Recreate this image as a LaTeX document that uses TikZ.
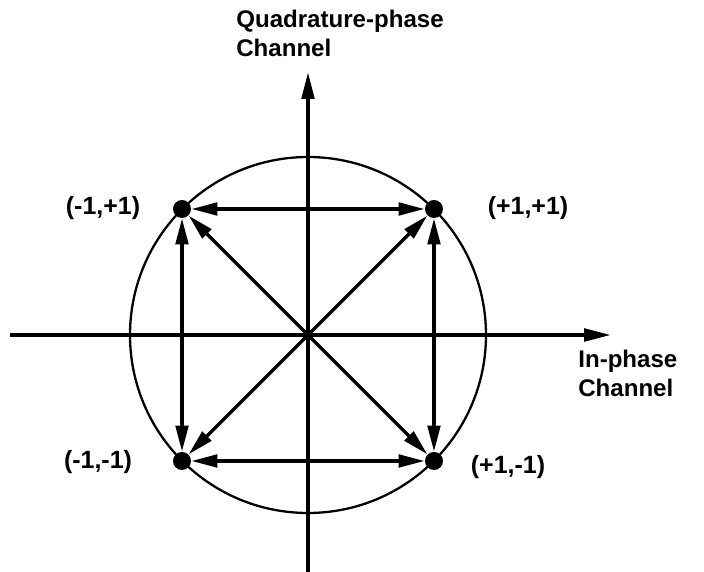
\documentclass[tikz,border=0pt]{standalone}
\usepackage{fontspec}
\setmainfont{Liberation Sans}
\usetikzlibrary{arrows.meta}
\tikzset{
  eixo/.style={-{Triangle[length=5.4mm, width=2.5mm]}, line width=2.2pt},
  seta/.style={-{Triangle[length=5.2mm, width=2.5mm]}, line width=2pt},
  setadupla/.style={{Triangle[length=5.2mm, width=2.5mm]}-{Triangle[length=5.2mm, width=2.5mm]}, line width=2pt},
  ponto/.style={circle, fill=black, inner sep=0pt, minimum size=3.6mm},
  rotulo/.style={font=\fontsize{13.7}{16.5}\selectfont\bfseries, inner sep=0pt, align=left},
  coord/.style={font=\fontsize{14.2}{16.5}\selectfont\bfseries, inner sep=0pt},
}
\begin{document}
\begin{tikzpicture}
  \useasboundingbox (-6.16,-4.74) rectangle (7.92,6.70);

  % --- Circulo e eixos --------------------------------------------------------
  \coordinate (o) at (0,0);
  \draw[line width=1.3pt] (o) circle (3.56);
  \coordinate (xini) at (-5.96,0);
  \coordinate (xfim) at (6.06,0);
  \coordinate (yini) at (0,-4.74);
  \coordinate (yfim) at (0,5.26);
  \draw[eixo] (xini) -- (xfim);
  \draw[eixo] (yini) -- (yfim);

  % --- Pontos da constelacao ---------------------------------------------------
  \node[ponto] (mp) at (-2.52, 2.52) {};
  \node[ponto] (pp) at ( 2.52, 2.52) {};
  \node[ponto] (mm) at (-2.52,-2.52) {};
  \node[ponto] (pm) at ( 2.52,-2.52) {};

  % --- Transicoes ---------------------------------------------------------
  \draw[setadupla] (mp) -- (pp);
  \draw[setadupla] (mm) -- (pm);
  \draw[setadupla] (mp) -- (mm);
  \draw[setadupla] (pp) -- (pm);
  \draw[seta] (o) -- (mp);
  \draw[seta] (o) -- (pp);
  \draw[seta] (o) -- (mm);
  \draw[seta] (o) -- (pm);

  % --- Rotulos ------------------------------------------------------------
  \node[coord] (lmp) at (-4.10, 2.54) {(-1,+1)};
  \node[coord] (lpp) at ( 4.40, 2.54) {(+1,+1)};
  \node[coord] (lmm) at (-4.20,-2.54) {(-1,-1)};
  \node[coord] (lpm) at ( 4.00,-2.64) {(+1,-1)};
  \node[rotulo, anchor=north west] (quad) at (-1.44,6.50) {Quadrature-phase\\Channel};
  \node[rotulo, anchor=north west] (inph) at (5.40,-0.30) {In-phase\\Channel};
\end{tikzpicture}
\end{document}
